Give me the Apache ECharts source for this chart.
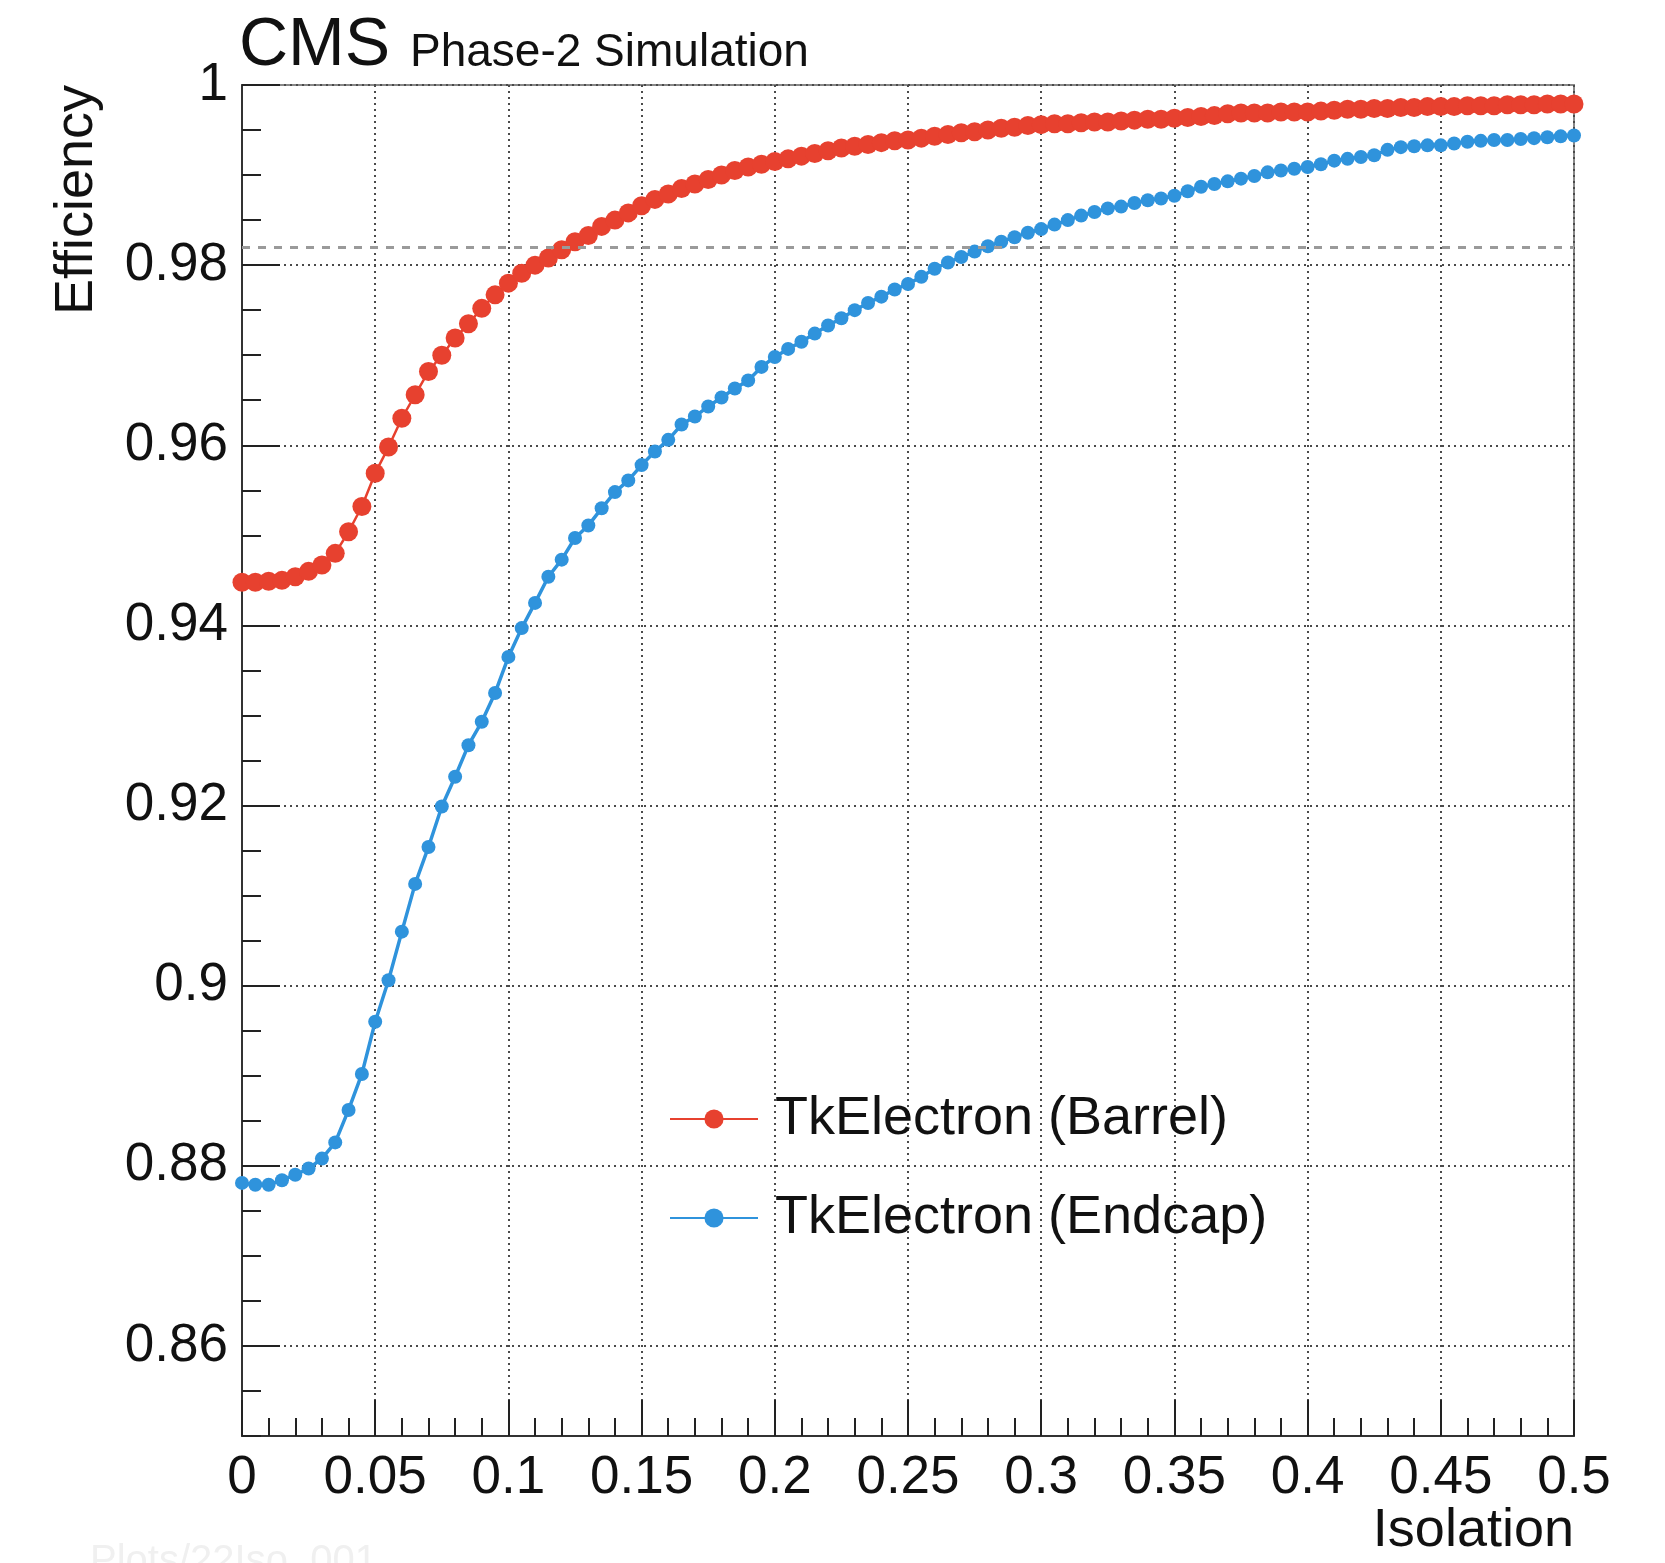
<!DOCTYPE html>
<html>
<head>
<meta charset="utf-8">
<script src="https://cdn.jsdelivr.net/npm/echarts@6/dist/echarts.min.js"></script>
<style>
  html, body { margin: 0; padding: 0; background: #fff; }
  #chart { width: 1665px; height: 1563px; }
</style>
</head>
<body>
<div id="chart"></div>
<script>
'use strict';

// isolation cut values (x)
const isolation = [
  0, 0.005, 0.01, 0.015, 0.02, 0.025, 0.03, 0.035, 0.04, 0.045,
  0.05, 0.055, 0.06, 0.065, 0.07, 0.075, 0.08, 0.085, 0.09, 0.095,
  0.1, 0.105, 0.11, 0.115, 0.12, 0.125, 0.13, 0.135, 0.14, 0.145,
  0.15, 0.155, 0.16, 0.165, 0.17, 0.175, 0.18, 0.185, 0.19, 0.195,
  0.2, 0.205, 0.21, 0.215, 0.22, 0.225, 0.23, 0.235, 0.24, 0.245,
  0.25, 0.255, 0.26, 0.265, 0.27, 0.275, 0.28, 0.285, 0.29, 0.295,
  0.3, 0.305, 0.31, 0.315, 0.32, 0.325, 0.33, 0.335, 0.34, 0.345,
  0.35, 0.355, 0.36, 0.365, 0.37, 0.375, 0.38, 0.385, 0.39, 0.395,
  0.4, 0.405, 0.41, 0.415, 0.42, 0.425, 0.43, 0.435, 0.44, 0.445,
  0.45, 0.455, 0.46, 0.465, 0.47, 0.475, 0.48, 0.485, 0.49, 0.495,
  0.5
];

// efficiency, barrel
const barrelEff = [
  0.9448, 0.9448, 0.9449, 0.9450, 0.9454, 0.9460, 0.9467, 0.9480, 0.9504, 0.9532,
  0.9569, 0.9598, 0.9630, 0.9656, 0.9682, 0.9700, 0.9719, 0.9735, 0.9752, 0.9767,
  0.9780, 0.9791, 0.9800, 0.9808, 0.9817, 0.9826, 0.9833, 0.9843, 0.9850, 0.9858,
  0.9866, 0.9873, 0.9879, 0.9885, 0.9890, 0.9895, 0.9900, 0.9905, 0.9909, 0.9912,
  0.9915, 0.9918, 0.9921, 0.9924, 0.9927, 0.9930, 0.9932, 0.9934, 0.9936, 0.9938,
  0.9939, 0.9941, 0.9943, 0.9945, 0.9947, 0.9948, 0.9950, 0.9952, 0.9953, 0.9955,
  0.9956, 0.9957, 0.9957, 0.9958, 0.9959, 0.9959, 0.9960, 0.9961, 0.9962, 0.9962,
  0.9963, 0.9964, 0.9965, 0.9966, 0.9968, 0.9969, 0.9969, 0.9969, 0.9970, 0.9970,
  0.9970, 0.9971, 0.9972, 0.9973, 0.9973, 0.9974, 0.9974, 0.9975, 0.9975, 0.9976,
  0.9976, 0.9976, 0.9977, 0.9977, 0.9977, 0.9978, 0.9978, 0.9978, 0.9979, 0.9979,
  0.9979
];

// efficiency, endcap
const endcapEff = [
  0.8781, 0.8779, 0.8779, 0.8784, 0.8790, 0.8797, 0.8808, 0.8826, 0.8862, 0.8902,
  0.8960, 0.9006, 0.9060, 0.9113, 0.9154, 0.9199, 0.9232, 0.9267, 0.9293, 0.9325,
  0.9365, 0.9397, 0.9425, 0.9454, 0.9473, 0.9497, 0.9511, 0.9530, 0.9548, 0.9561,
  0.9578, 0.9593, 0.9606, 0.9623, 0.9632, 0.9643, 0.9653, 0.9663, 0.9672, 0.9687,
  0.9698, 0.9707, 0.9715, 0.9724, 0.9733, 0.9741, 0.9750, 0.9758, 0.9765, 0.9773,
  0.9779, 0.9787, 0.9796, 0.9803, 0.9809, 0.9815, 0.9821, 0.9826, 0.9831, 0.9836,
  0.9840, 0.9845, 0.9850, 0.9855, 0.9859, 0.9863, 0.9865, 0.9869, 0.9872, 0.9874,
  0.9877, 0.9882, 0.9887, 0.9890, 0.9893, 0.9896, 0.9899, 0.9903, 0.9905, 0.9907,
  0.9909, 0.9912, 0.9916, 0.9918, 0.9920, 0.9922, 0.9928, 0.9931, 0.9932, 0.9933,
  0.9933, 0.9935, 0.9937, 0.9938, 0.9939, 0.9939, 0.9940, 0.9941, 0.9942, 0.9943,
  0.9944
];

const seriesNames = ['TkElectron (Barrel)', 'TkElectron (Endcap)'];
const yMajorTicks = [0.86, 0.88, 0.9, 0.92, 0.94, 0.96, 0.98, 1];
const thresholdEff = 0.982; // dashed reference line

const FONT = '"Liberation Sans", Arial, Helvetica, sans-serif';
const RED = '#e7412f';
const BLUE = '#2f93dc';

const chart = echarts.init(document.getElementById('chart'), null, { renderer: 'canvas' });

const dotted = { type: [2, 4], color: '#4a4a4a', width: 2 };
const tickStyle = { color: '#222', width: 2 };

let option = {
  animation: false,
  backgroundColor: '#fff',
  grid: {
    left: 242, right: 91, top: 85, bottom: 127,
    show: true, borderColor: '#888', borderWidth: 2, backgroundColor: 'transparent'
  },
  xAxis: {
    type: 'value', min: 0, max: 0.5, interval: 0.05,
    axisLine: { show: true, onZero: false, lineStyle: { color: '#333', width: 2 } },
    axisTick: { show: true, inside: true, length: 36, lineStyle: tickStyle },
    minorTick: { show: true, splitNumber: 5, length: 18, lineStyle: tickStyle },
    axisLabel: {
      fontSize: 53, fontFamily: FONT, color: '#111', margin: 16,
      formatter: v => String(+v.toFixed(3))
    },
    splitLine: { show: true, lineStyle: dotted }
  },
  yAxis: [
    {
      type: 'value', min: 0.85, max: 1, position: 'left',
      axisLine: { show: true, onZero: false, lineStyle: { color: '#333', width: 2 } },
      axisTick: { show: true, inside: true, length: 38, customValues: yMajorTicks, lineStyle: tickStyle },
      axisLabel: {
        customValues: yMajorTicks,
        fontSize: 53, fontFamily: FONT, color: '#111', margin: 14,
        formatter: v => String(+v.toFixed(2))
      },
      splitLine: { show: true, lineStyle: dotted }
    },
    {
      // minor ticks every 0.005
      type: 'value', min: 0.85, max: 1, interval: 0.005, position: 'left',
      axisLine: { show: false },
      axisTick: { show: true, inside: true, length: 19, lineStyle: tickStyle },
      axisLabel: { show: false },
      splitLine: { show: false }
    }
  ],
  legend: {
    orient: 'vertical',
    left: 664, top: 1084,
    itemWidth: 88, itemHeight: 24, itemGap: 39,
    data: seriesNames,
    textStyle: { fontSize: 54, fontFamily: FONT, color: '#111', lineHeight: 60, padding: [0, 0, 0, 12] }
  },
  series: [
    {
      name: seriesNames[0], type: 'line', yAxisIndex: 0,
      data: isolation.map((x, i) => [x, barrelEff[i]]),
      symbol: 'circle', symbolSize: 19, showSymbol: true,
      lineStyle: { color: RED, width: 2.5 },
      itemStyle: { color: RED },
      z: 3,
      markLine: {
        silent: true, symbol: 'none', precision: 4, label: { show: false },
        lineStyle: { type: [8, 8], color: '#9a9a9a', width: 3 },
        data: [{ yAxis: thresholdEff }]
      }
    },
    {
      name: seriesNames[1], type: 'line', yAxisIndex: 0,
      data: isolation.map((x, i) => [x, endcapEff[i]]),
      symbol: 'circle', symbolSize: 14, showSymbol: true,
      lineStyle: { color: BLUE, width: 3.5 },
      itemStyle: { color: BLUE },
      z: 3
    }
  ],
  graphic: [
    {
      type: 'text', left: 239, top: 12,
      style: { text: 'CMS', font: '68px ' + FONT, fill: '#111' }
    },
    {
      type: 'text', left: 410, top: 30,
      style: { text: 'Phase-2 Simulation', font: '46px ' + FONT, fill: '#111' }
    },
    {
      type: 'text', x: 77, y: 85, rotation: Math.PI / 2,
      style: { text: 'Efficiency', font: '54px ' + FONT, fill: '#111', align: 'right', verticalAlign: 'middle' }
    },
    {
      type: 'text', x: 1574, y: 1531,
      style: { text: 'Isolation', font: '54px ' + FONT, fill: '#111', align: 'right', verticalAlign: 'middle' }
    },
    {
      type: 'text', x: 90, y: 1542,
      style: { text: 'Plots/22Iso_001', font: '40px ' + FONT, fill: '#f0f0f0', align: 'left', verticalAlign: 'top' }
    }
  ]
};

chart.setOption(option);
</script>
</body>
</html>
